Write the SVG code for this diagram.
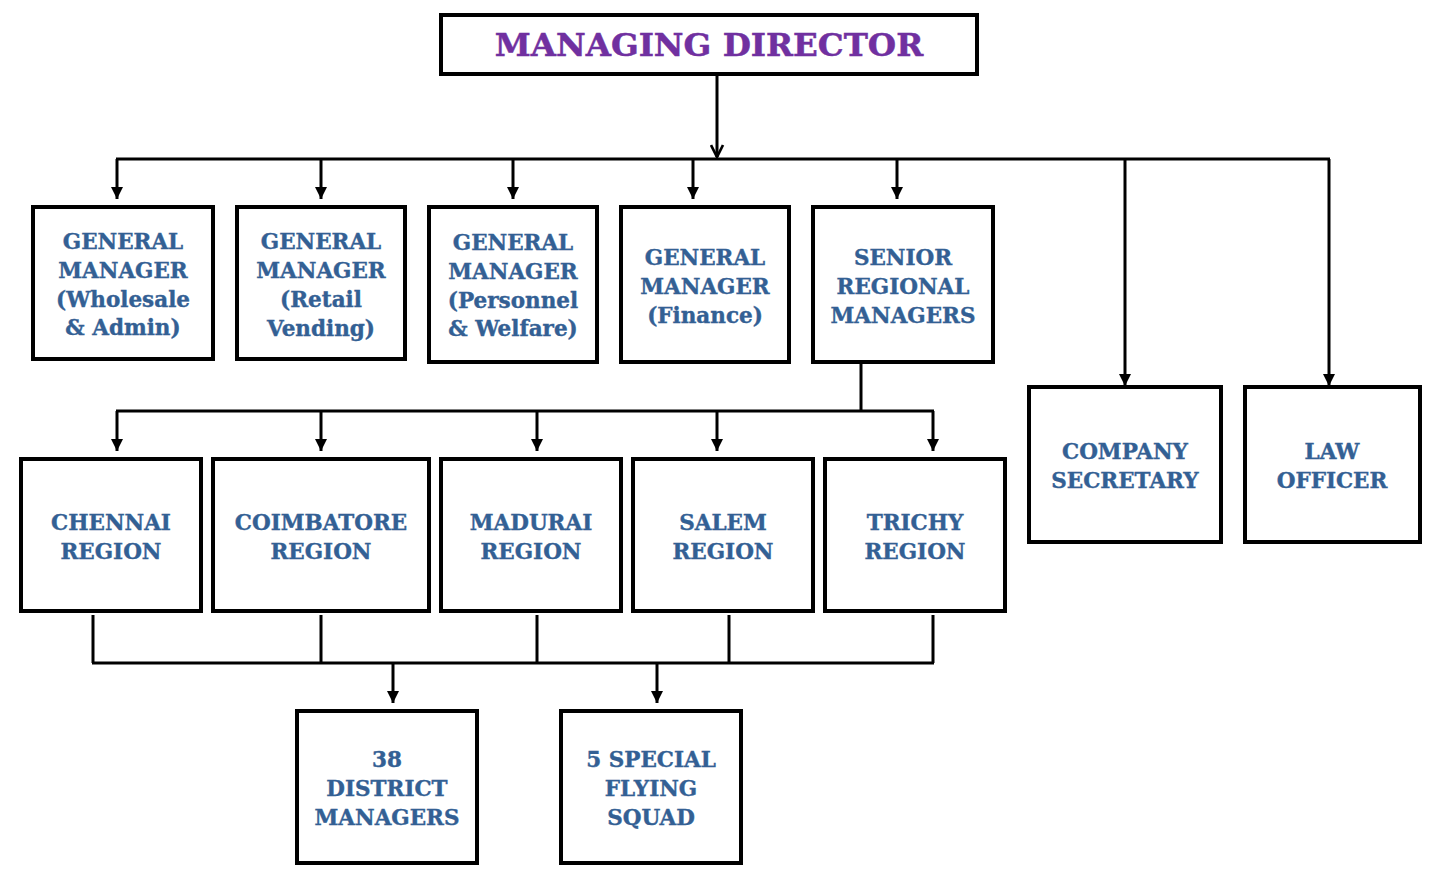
<svg xmlns="http://www.w3.org/2000/svg" width="1431" height="871" viewBox="0 0 1431 871">
<style>
.box{fill:#fff;stroke:#000;stroke-width:4}
.t{font-family:"DejaVu Serif","Liberation Serif",serif;font-weight:bold;font-size:21.5px;fill:#336094;stroke:#336094;stroke-width:0.4;text-anchor:middle}
.md{font-family:"DejaVu Serif","Liberation Serif",serif;font-weight:bold;font-size:32.5px;fill:#7030A0;stroke:#7030A0;stroke-width:0.5;text-anchor:middle}
.ln{fill:none;stroke:#000;stroke-width:3}
</style>
<defs>
<marker id="tri" viewBox="0 0 10 10" refX="10" refY="5" markerWidth="4" markerHeight="4" orient="auto" markerUnits="strokeWidth">
<path d="M0,0 L10,5 L0,10 z" fill="#000"/>
</marker>
<marker id="chev" viewBox="0 0 10 10" refX="9" refY="5" markerWidth="5" markerHeight="5" orient="auto" markerUnits="strokeWidth">
<path d="M1,1 L9,5 L1,9" fill="none" stroke="#000" stroke-width="1.8"/>
</marker>
</defs>
<rect width="1431" height="871" fill="#fff"/>
<g id="connectors">
<path class="ln" d="M717,74 V157" marker-end="url(#chev)"/>
<path class="ln" d="M116,159 H1330"/>
<path class="ln" d="M117,159 V199" marker-end="url(#tri)"/>
<path class="ln" d="M321,159 V199" marker-end="url(#tri)"/>
<path class="ln" d="M513,159 V199" marker-end="url(#tri)"/>
<path class="ln" d="M693,159 V199" marker-end="url(#tri)"/>
<path class="ln" d="M897,159 V199" marker-end="url(#tri)"/>
<path class="ln" d="M1125,159 V386" marker-end="url(#tri)"/>
<path class="ln" d="M1329,159 V386" marker-end="url(#tri)"/>
<path class="ln" d="M861,362 V411"/>
<path class="ln" d="M116,411 H934"/>
<path class="ln" d="M117,411 V451" marker-end="url(#tri)"/>
<path class="ln" d="M321,411 V451" marker-end="url(#tri)"/>
<path class="ln" d="M537,411 V451" marker-end="url(#tri)"/>
<path class="ln" d="M717,411 V451" marker-end="url(#tri)"/>
<path class="ln" d="M933,411 V451" marker-end="url(#tri)"/>
<path class="ln" d="M93,615 V663 M321,615 V663 M537,615 V663 M729,615 V663 M933,615 V663"/>
<path class="ln" d="M92,663 H934"/>
<path class="ln" d="M393,663 V703" marker-end="url(#tri)"/>
<path class="ln" d="M657,663 V703" marker-end="url(#tri)"/>
</g>
<g id="md"><rect class="box" x="441" y="15" width="536" height="59"/><text class="md" x="709" y="56">MANAGING DIRECTOR</text></g>
<g id="gm-wholesale"><rect class="box" x="33" y="207" width="180" height="152"/>
<text class="t" x="123"><tspan x="123" y="249">GENERAL</tspan><tspan x="123" y="278">MANAGER</tspan><tspan x="123" y="307">(Wholesale</tspan><tspan x="123" y="335">&amp; Admin)</tspan></text></g>
<g id="gm-retail"><rect class="box" x="237" y="207" width="168" height="152"/>
<text class="t"><tspan x="321" y="249">GENERAL</tspan><tspan x="321" y="278">MANAGER</tspan><tspan x="321" y="307">(Retail</tspan><tspan x="321" y="336">Vending)</tspan></text></g>
<g id="gm-personnel"><rect class="box" x="429" y="207" width="168" height="155"/>
<text class="t"><tspan x="513" y="250">GENERAL</tspan><tspan x="513" y="279">MANAGER</tspan><tspan x="513" y="308">(Personnel</tspan><tspan x="513" y="336">&amp; Welfare)</tspan></text></g>
<g id="gm-finance"><rect class="box" x="621" y="207" width="168" height="155"/>
<text class="t"><tspan x="705" y="265">GENERAL</tspan><tspan x="705" y="294">MANAGER</tspan><tspan x="705" y="323">(Finance)</tspan></text></g>
<g id="senior-rm"><rect class="box" x="813" y="207" width="180" height="155"/>
<text class="t"><tspan x="903" y="265">SENIOR</tspan><tspan x="903" y="294">REGIONAL</tspan><tspan x="903" y="323">MANAGERS</tspan></text></g>
<g id="company-secretary"><rect class="box" x="1029" y="387" width="192" height="155"/>
<text class="t"><tspan x="1125" y="459">COMPANY</tspan><tspan x="1125" y="488">SECRETARY</tspan></text></g>
<g id="law-officer"><rect class="box" x="1245" y="387" width="175" height="155"/>
<text class="t"><tspan x="1332" y="459">LAW</tspan><tspan x="1332" y="488">OFFICER</tspan></text></g>
<g id="chennai"><rect class="box" x="21" y="459" width="180" height="152"/>
<text class="t"><tspan x="111" y="530">CHENNAI</tspan><tspan x="111" y="559">REGION</tspan></text></g>
<g id="coimbatore"><rect class="box" x="213" y="459" width="216" height="152"/>
<text class="t"><tspan x="321" y="530">COIMBATORE</tspan><tspan x="321" y="559">REGION</tspan></text></g>
<g id="madurai"><rect class="box" x="441" y="459" width="180" height="152"/>
<text class="t"><tspan x="531" y="530">MADURAI</tspan><tspan x="531" y="559">REGION</tspan></text></g>
<g id="salem"><rect class="box" x="633" y="459" width="180" height="152"/>
<text class="t"><tspan x="723" y="530">SALEM</tspan><tspan x="723" y="559">REGION</tspan></text></g>
<g id="trichy"><rect class="box" x="825" y="459" width="180" height="152"/>
<text class="t"><tspan x="915" y="530">TRICHY</tspan><tspan x="915" y="559">REGION</tspan></text></g>
<g id="district"><rect class="box" x="297" y="711" width="180" height="152"/>
<text class="t"><tspan x="387" y="767">38</tspan><tspan x="387" y="796">DISTRICT</tspan><tspan x="387" y="825">MANAGERS</tspan></text></g>
<g id="flying-squad"><rect class="box" x="561" y="711" width="180" height="152"/>
<text class="t"><tspan x="651" y="767">5 SPECIAL</tspan><tspan x="651" y="796">FLYING</tspan><tspan x="651" y="825">SQUAD</tspan></text></g>
</svg>
